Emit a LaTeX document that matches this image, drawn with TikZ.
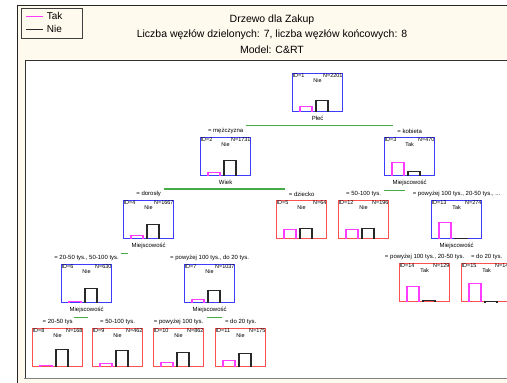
\documentclass[tikz,border=0pt]{standalone}
\usepackage{fontspec}
\setmainfont{Liberation Sans}
\usetikzlibrary{positioning}
\definecolor{splitblue}{RGB}{60,60,255}
\definecolor{leafred}{RGB}{255,80,80}
\definecolor{takpink}{RGB}{255,60,255}
\definecolor{niegray}{RGB}{40,40,40}
\definecolor{splitgreen}{RGB}{70,170,70}
\definecolor{paper}{RGB}{255,250,238}
\begin{document}
\begin{tikzpicture}[x=1pt,y=-1pt,
	treenode/.style={draw=#1,line width=1.2pt,minimum width=50pt,minimum height=38pt,anchor=north west,inner sep=0pt},
	tiny/.style={font=\fontsize{5.5}{6}\selectfont,inner sep=0.5pt},
	branch/.style={font=\fontsize{6}{7}\selectfont,inner sep=1pt},
	split/.style={splitgreen,line width=1.1pt}]
\useasboundingbox (0,0) rectangle (507,383);
\clip (0,0) rectangle (507,383);
% frame
\draw[fill=paper,line width=1.5pt,draw=black!85] (17.5,5.5) rectangle (530,400);
\fill[white] (25,60) rectangle (530,378);
\draw[black!80,line width=1pt] (25,378) -- (25,60) -- (530,60);
\draw[black!50,line width=1pt] (24,378) -- (530,378);
% legend and title
\node[draw=black!75,line width=1pt,minimum width=61pt,minimum height=30pt,anchor=north west,inner sep=0pt] (legend) at (21,8) {};
\draw[takpink,line width=1pt] ([shift={(5,8)}]legend.north west) -- ++(17,0) node[right=0pt,font=\fontsize{10}{12}\selectfont,text=black] (tak) {Tak};
\draw[niegray,line width=1pt] ([shift={(5,21)}]legend.north west) -- ++(17,0) node[right=0pt,font=\fontsize{10}{12}\selectfont,text=black] (nie) {Nie};
\node[font=\fontsize{10.5}{12}\selectfont] (title) at (272,20) {Drzewo dla Zakup};
\node[font=\fontsize{10.5}{12}\selectfont] (stats) at (272,35) {Liczba węzłów dzielonych: 7, liczba węzłów końcowych: 8};
\node[font=\fontsize{10.5}{12}\selectfont] (model) at (272,50) {Model: C\&RT};
% tree nodes
\foreach \id/\x/\y/\n/\cls/\col/\tak/\nie/\lab in {
	1/292/73/2201/Nie/splitblue/6/12/{},
	2/200/137/1731/Nie/splitblue/4/16/{= mężczyzna},
	3/384/137/470/Tak/splitblue/14/5/{= kobieta},
	4/123/200/1667/Nie/splitblue/4/15/{= dorosły},
	5/276/200/64/Nie/leafred/10/11/{= dziecko},
	12/338/200/196/Nie/leafred/10/11/{= 50-100 tys.},
	13/431/200/274/Tak/splitblue/17/1/{= powyżej 100 tys., 20-50 tys., ...},
	6/61/264/630/Nie/splitblue/2/15/{= 20-50 tys., 50-100 tys.},
	7/184/264/1037/Nie/splitblue/4/13/{= powyżej 100 tys., do 20 tys.},
	8/32/328/168/Nie/leafred/2/18/{= 20-50 tys},
	9/92/328/462/Nie/leafred/4/17/{= 50-100 tys.},
	10/153/328/862/Nie/leafred/5/15/{= powyżej 100 tys.},
	11/215/328/175/Nie/leafred/7/14/{= do 20 tys.},
	14/399/263/129/Tak/leafred/16/2/{= powyżej 100 tys., 20-50 tys.},
	15/461/263/145/Tak/leafred/19/0.5/{= do 20 tys.}} {
	\node[treenode=\col] (N\id) at (\x,\y) {};
	\node[tiny,anchor=north west] at (N\id.north west) {ID=\id};
	\node[tiny,anchor=north east] at (N\id.north east) {N=\n};
	\node[tiny,below=5pt of N\id.north] {\cls};
	\node[branch,above=2pt of N\id.north] {\lab};
	\draw[takpink,line width=1.1pt] ([xshift=8pt]N\id.south west) -- ++(0,-\tak) -- ++(12,0) -- ++(0,\tak);
	\draw[niegray,line width=1.1pt] ([xshift=24pt]N\id.south west) -- ++(0,-\nie) -- ++(12,0) -- ++(0,\nie);
}
% split variables
\foreach \id/\var in {1/Płeć,2/Wiek,3/Miejscowość,4/Miejscowość,6/Miejscowość,7/Miejscowość,13/Miejscowość}
	\node[branch,below=3pt of N\id.south] (S\id) {\var};
\foreach \id/\a/\e in {1/-72/75,2/-62/59,3/-26/-5,4/-28/-21,6/-13/1,7/-3/12}
	\draw[split] ([shift={(\a,3)}]S\id.south) -- ([shift={(\e,3)}]S\id.south);
\end{tikzpicture}
\end{document}
